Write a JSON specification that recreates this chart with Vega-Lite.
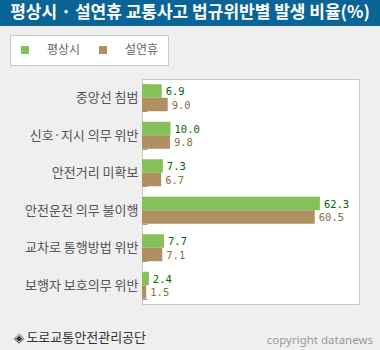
{
  "$schema": "https://vega.github.io/schema/vega-lite/v6.json",
  "background": "#efefef",
  "padding": {"left": 0, "top": 0, "right": 0, "bottom": 9},
  "spacing": 46,
  "config": {"view": {"stroke": null}, "font": "Noto Sans CJK KR"},
  "datasets": {
    "bars": [
      {"cat": "중앙선 침범", "series": "평상시", "value": 6.9},
      {"cat": "중앙선 침범", "series": "설연휴", "value": 9.0},
      {"cat": "신호·지시 의무 위반", "series": "평상시", "value": 10.0},
      {"cat": "신호·지시 의무 위반", "series": "설연휴", "value": 9.8},
      {"cat": "안전거리 미확보", "series": "평상시", "value": 7.3},
      {"cat": "안전거리 미확보", "series": "설연휴", "value": 6.7},
      {"cat": "안전운전 의무 불이행", "series": "평상시", "value": 62.3},
      {"cat": "안전운전 의무 불이행", "series": "설연휴", "value": 60.5},
      {"cat": "교차로 통행방법 위반", "series": "평상시", "value": 7.7},
      {"cat": "교차로 통행방법 위반", "series": "설연휴", "value": 7.1},
      {"cat": "보행자 보호의무 위반", "series": "평상시", "value": 2.4},
      {"cat": "보행자 보호의무 위반", "series": "설연휴", "value": 1.5}
    ]
  },
  "vconcat": [
    {
      "width": 380,
      "height": 26,
      "view": {"fill": "#0a6496", "stroke": null},
      "data": {"values": [{"t": "평상시 · 설연휴 교통사고 법규위반별 발생 비율(%)"}]},
      "mark": {"type": "text", "color": "white", "font": "Noto Sans CJK KR", "fontSize": 17, "fontWeight": "bold", "baseline": "middle"},
      "encoding": {"text": {"field": "t"}}
    },
    {
      "spacing": 0,
      "hconcat": [
        {
          "width": 1,
          "height": 225,
          "data": {"values": [{"t": ""}]},
          "mark": {"type": "text"},
          "encoding": {"text": {"field": "t"}}
        },
        {
          "width": 217,
          "height": 225,
          "view": {"fill": "white", "stroke": "#c8c8c8"},
          "data": {"name": "bars"},
          "title": {
            "text": "copyright datanews",
            "orient": "bottom",
            "anchor": "end",
            "frame": "group",
            "dx": 14,
            "offset": -9,
            "font": "Noto Sans",
            "fontSize": 11.5,
            "fontWeight": "normal",
            "color": "#999999"
          },
          "encoding": {
            "y": {
              "field": "cat",
              "type": "nominal",
              "sort": ["중앙선 침범", "신호·지시 의무 위반", "안전거리 미확보", "안전운전 의무 불이행", "교차로 통행방법 위반", "보행자 보호의무 위반"],
              "scale": {"paddingInner": 0.28, "paddingOuter": 0.14},
              "axis": {
                "title": null,
                "domain": false,
                "ticks": false,
                "labelPadding": 4,
                "labelFont": "Noto Sans CJK KR",
                "labelFontSize": 13,
                "labelColor": "#555555",
                "labelLimit": 200,
                "minExtent": 140,
                "maxExtent": 140,
                "grid": true,
                "gridColor": "#999999",
                "gridDash": [5, 1000],
                "tickBand": "extent"
              }
            },
            "yOffset": {"field": "series", "type": "nominal", "sort": ["평상시", "설연휴"]},
            "x": {
              "field": "value",
              "type": "quantitative",
              "scale": {"domain": [0, 76], "nice": false},
              "axis": {
                "title": "◈ 도로교통안전관리공단",
                "domain": false,
                "ticks": false,
                "labels": false,
                "grid": false,
                "titleX": -129,
                "titleY": 33,
                "titleAlign": "left",
                "titleBaseline": "middle",
                "titleFont": "Noto Sans CJK KR",
                "titleFontSize": 13,
                "titleFontWeight": "normal",
                "titleColor": "#333333"
              }
            }
          },
          "layer": [
            {
              "mark": {"type": "bar"},
              "encoding": {
                "color": {
                  "field": "series",
                  "type": "nominal",
                  "sort": ["평상시", "설연휴"],
                  "scale": {"domain": ["평상시", "설연휴"], "range": ["#85c159", "#b08f60"]},
                  "legend": {
                    "orient": "none",
                    "legendX": 10,
                    "legendY": 35,
                    "direction": "horizontal",
                    "title": null,
                    "fillColor": "white",
                    "strokeColor": "#c8c8c8",
                    "padding": 9,
                    "symbolType": "square",
                    "symbolSize": 64,
                    "symbolStrokeWidth": 0,
                    "symbolOpacity": 1,
                    "labelFont": "Noto Sans CJK KR",
                    "labelFontSize": 12,
                    "labelColor": "#666666",
                    "labelOffset": 16,
                    "columnPadding": 16
                  }
                }
              }
            },
            {
              "mark": {"type": "text", "align": "left", "baseline": "middle", "dx": 4, "dy": 1, "font": "DejaVu Sans Mono", "fontSize": 10.5},
              "encoding": {
                "text": {"field": "value", "type": "quantitative", "format": ".1f"},
                "color": {"condition": {"test": "datum.series === '평상시'", "value": "#006600"}, "value": "#8c6b3e"}
              }
            }
          ]
        }
      ]
    }
  ]
}
